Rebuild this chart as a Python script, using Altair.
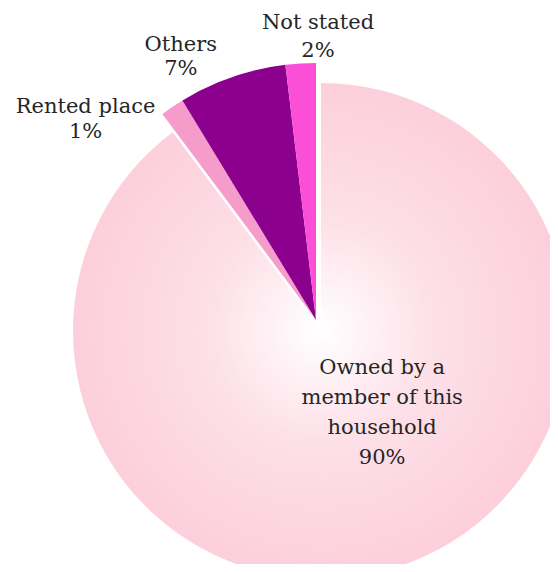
import altair as alt
import pandas as pd

categories = ["Owned by a member of this household", "Rented place", "Others", "Not stated"]
labels = ["Owned by a\nmember of this\nhousehold\n90%", "Rented place\n1%", "Others\n7%", "Not stated\n2%"]
shares = [89.8, 1.5, 6.8, 1.9]
colors = ["#fcd0dc", "#f59ccb", "#8c008e", "#fc4fd8"]

df = pd.DataFrame({
    "category": categories,
    "label": labels,
    "share": shares,
    "order": list(range(len(categories))),
    "color": colors,
})

FONT = "DejaVu Serif"
SMALL_C = (308, 312)
MAIN_C = (313, 323)

base = (
    alt.Chart(df)
    .transform_joinaggregate(total="sum(share)")
    .transform_window(cum="sum(share)", sort=[alt.SortField("order")], frame=[None, 0])
    .transform_calculate(
        start="2*PI*(datum.cum - datum.share)/datum.total",
        end="2*PI*datum.cum/datum.total",
        mid="2*PI*(datum.cum - datum.share/2)/datum.total",
    )
)

gradient = alt.RadialGradient(
    gradient="radial",
    x1=0.5, y1=0.5, r1=0,
    x2=0.5, y2=0.5, r2=0.5,
    stops=[
        alt.GradientStop(offset=0, color="#ffffff"),
        alt.GradientStop(offset=0.45, color="#fde0e8"),
        alt.GradientStop(offset=1, color="#fccfdb"),
    ],
)

main = base.transform_filter("datum.order == 0").mark_arc(outerRadius=248, fill=gradient).encode(
    theta=alt.Theta("start:Q", scale=None),
    theta2="end:Q",
    x=alt.value(MAIN_C[0]),
    y=alt.value(MAIN_C[1]),
)

small = base.transform_filter("datum.order > 0").mark_arc(outerRadius=257).encode(
    theta=alt.Theta("start:Q", scale=None),
    theta2="end:Q",
    color=alt.Color("color:N", scale=None),
    x=alt.value(SMALL_C[0]),
    y=alt.value(SMALL_C[1]),
)


def label_layer(order, r, dx, dy, center, line_height):
    return base.transform_filter(f"datum.order == {order}").mark_text(
        font=FONT, fontSize=21, color="#262626", align="center", baseline="middle",
        lineBreak="\n", lineHeight=line_height, dx=dx, dy=dy,
    ).encode(
        theta=alt.Theta("mid:Q", scale=None),
        radius=alt.value(r),
        text="label:N",
        x=alt.value(center[0]),
        y=alt.value(center[1]),
    )


texts = [
    label_layer(0, 80, 36, -39, MAIN_C, 30),
    label_layer(1, 285, -71, 23, SMALL_C, 25),
    label_layer(2, 285, -42, -6, SMALL_C, 24),
    label_layer(3, 285, 19, -13, SMALL_C, 28),
]

chart = alt.layer(main, small, *texts).properties(
    width=542, height=556, padding=0, autosize="none"
).configure_view(stroke=None)

chart.save("out.html", embed_options={"renderer": "svg", "actions": False})
